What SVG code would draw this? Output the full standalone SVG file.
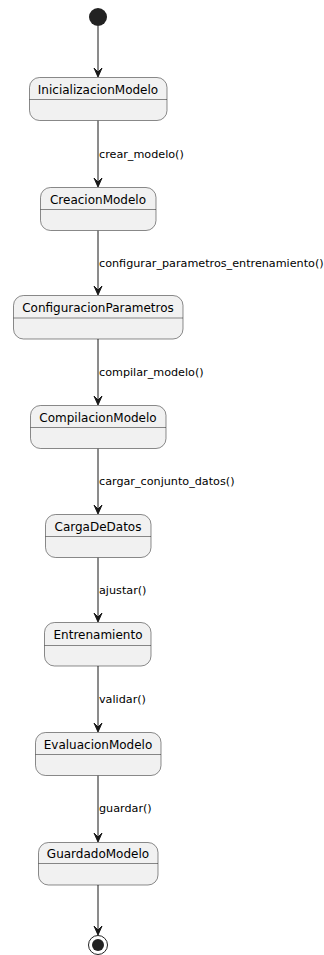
<svg xmlns="http://www.w3.org/2000/svg" width="324" height="955" viewBox="0 0 324 955">
<style>
.st{fill:#F1F1F1;stroke:#181818;stroke-width:0.5}
.dv{stroke:#181818;stroke-width:0.5}
.nm{font-family:"DejaVu Sans",sans-serif;font-size:12px;fill:#000;text-anchor:middle}
.lb{font-family:"DejaVu Sans",sans-serif;font-size:11.2px;fill:#000}
.ln{stroke:#181818;stroke-width:1;fill:none}
.ah{fill:#181818;stroke:#181818;stroke-width:1}
</style>
<defs>
<path id="arr" d="M-4,-9 L0,0 L4,-9 L0,-5 Z"/>
</defs>
<rect width="324" height="955" fill="#FFFFFF"/>
<g id="connectors">
<line class="ln" x1="98" y1="26" x2="98" y2="76"/><use href="#arr" class="ah" x="98" y="77"/>
<line class="ln" x1="98" y1="120.5" x2="98" y2="186"/><use href="#arr" class="ah" x="98" y="187"/>
<text class="lb" x="99" y="158">crear_modelo()</text>
<line class="ln" x1="98" y1="230.5" x2="98" y2="294"/><use href="#arr" class="ah" x="98" y="295"/>
<text class="lb" x="99" y="267">configurar_parametros_entrenamiento()</text>
<line class="ln" x1="98" y1="339" x2="98" y2="404"/><use href="#arr" class="ah" x="98" y="405"/>
<text class="lb" x="99" y="376">compilar_modelo()</text>
<line class="ln" x1="98" y1="448.5" x2="98" y2="513"/><use href="#arr" class="ah" x="98" y="514"/>
<text class="lb" x="99" y="485">cargar_conjunto_datos()</text>
<line class="ln" x1="98" y1="557.5" x2="98" y2="621"/><use href="#arr" class="ah" x="98" y="622"/>
<text class="lb" x="99" y="594">ajustar()</text>
<line class="ln" x1="98" y1="666" x2="98" y2="731"/><use href="#arr" class="ah" x="98" y="732"/>
<text class="lb" x="99" y="703">validar()</text>
<line class="ln" x1="98" y1="775.5" x2="98" y2="841"/><use href="#arr" class="ah" x="98" y="842"/>
<text class="lb" x="99" y="812">guardar()</text>
<line class="ln" x1="98" y1="885" x2="98" y2="934"/><use href="#arr" class="ah" x="98" y="935"/>
</g>
<g id="start"><circle cx="98" cy="17" r="9" fill="#222222"/></g>
<g id="InicializacionModelo">
<rect class="st" x="29.5" y="77.5" width="137.5" height="43" rx="10"/>
<line class="dv" x1="29.5" y1="99.5" x2="167" y2="99.5"/>
<text class="nm" x="98" y="94">InicializacionModelo</text>
</g>
<g id="CreacionModelo">
<rect class="st" x="40.5" y="187.5" width="115.5" height="43" rx="10"/>
<line class="dv" x1="40.5" y1="209.5" x2="156" y2="209.5"/>
<text class="nm" x="98" y="204">CreacionModelo</text>
</g>
<g id="ConfiguracionParametros">
<rect class="st" x="13.5" y="295.5" width="169.5" height="43.5" rx="10"/>
<line class="dv" x1="13.5" y1="318" x2="183" y2="318"/>
<text class="nm" x="98" y="312">ConfiguracionParametros</text>
</g>
<g id="CompilacionModelo">
<rect class="st" x="30.5" y="405.5" width="135.5" height="43" rx="10"/>
<line class="dv" x1="30.5" y1="427.5" x2="166" y2="427.5"/>
<text class="nm" x="98" y="422">CompilacionModelo</text>
</g>
<g id="CargaDeDatos">
<rect class="st" x="45.5" y="514.5" width="105.5" height="43" rx="10"/>
<line class="dv" x1="45.5" y1="536.5" x2="151" y2="536.5"/>
<text class="nm" x="98" y="531">CargaDeDatos</text>
</g>
<g id="Entrenamiento">
<rect class="st" x="44.5" y="622.5" width="106.5" height="43.5" rx="10"/>
<line class="dv" x1="44.5" y1="645.5" x2="151" y2="645.5"/>
<text class="nm" x="98" y="639">Entrenamiento</text>
</g>
<g id="EvaluacionModelo">
<rect class="st" x="35.5" y="732.5" width="125.5" height="43" rx="10"/>
<line class="dv" x1="35.5" y1="754.5" x2="161" y2="754.5"/>
<text class="nm" x="98" y="749">EvaluacionModelo</text>
</g>
<g id="GuardadoModelo">
<rect class="st" x="38.5" y="842.5" width="119.5" height="42.5" rx="10"/>
<line class="dv" x1="38.5" y1="863.5" x2="158" y2="863.5"/>
<text class="nm" x="98" y="858">GuardadoModelo</text>
</g>
<g id="end">
<circle cx="98" cy="945" r="9.5" fill="none" stroke="#222222" stroke-width="1"/>
<circle cx="98" cy="945" r="6" fill="#222222"/>
</g>
</svg>
